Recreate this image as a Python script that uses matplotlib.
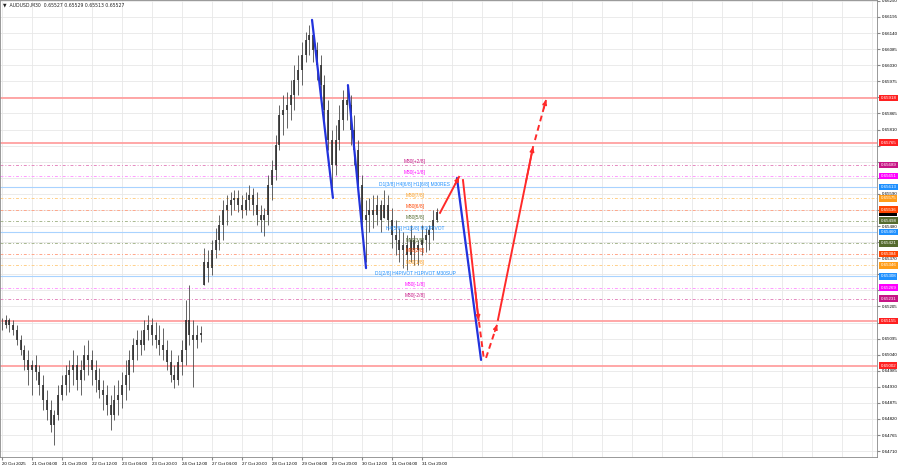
import numpy as np
import matplotlib.pyplot as plt

plt.rcParams['font.family'] = ['Liberation Sans', 'DejaVu Sans']

# header of the chart window
symbol = "AUDUSD,M30"
ohlc_now = [0.65527, 0.65529, 0.65513, 0.65527]

# M30 bars, one value every 4 bars (2 h), in points (1e-5)
step = 4
highs = [65165, 65176, 65165, 65159, 65142, 65107, 65073, 65056, 65022, 65039,
         65005, 64971, 64919, 64885, 64851, 64936, 64971, 65005, 65022, 65056,
         65039, 65022, 65073, 65090, 65056, 65022, 64994, 64954, 64936, 64902,
         64936, 64954, 64981, 65022, 65056, 65097, 65124, 65124, 65159, 65176,
         65165, 65152, 65142, 65131, 65090, 65056, 65005, 65039, 65090, 65227,
         65278, 65159, 65142, 65138, 65405, 65398, 65432, 65473, 65518, 65569,
         65586, 65596, 65603, 65603, 65586, 65596, 65620, 65610, 65596, 65552,
         65542, 65655, 65706, 65791, 65894, 65928, 65938, 65980, 66031, 66065,
         66109, 66144, 66168, 66150, 66109, 66065, 65997, 65911, 65809, 65826,
         65894, 65945, 65962, 65928, 65860, 65774, 65655, 65569, 65576, 65586,
         65586, 65569, 65603, 65586, 65542, 65501, 65473, 65460, 65449, 65484,
         65449, 65432, 65484, 65473, 65484, 65535, 65542]
lows = [65124, 65131, 65118, 65107, 65073, 65039, 64988, 64936, 64902, 64954,
        64902, 64851, 64817, 64776, 64731, 64817, 64885, 64902, 64912, 64936,
        64919, 64902, 64954, 64971, 64936, 64912, 64892, 64851, 64834, 64782,
        64817, 64834, 64858, 64885, 64919, 64981, 65022, 65039, 65056, 65090,
        65073, 65063, 65039, 65022, 64988, 64947, 64926, 64936, 64971, 65005,
        65073, 64929, 65063, 65083, 65278, 65289, 65313, 65371, 65398, 65432,
        65484, 65518, 65535, 65528, 65507, 65518, 65535, 65518, 65484, 65460,
        65446, 65484, 65569, 65637, 65740, 65791, 65815, 65843, 65877, 65928,
        65962, 66041, 66065, 66041, 65980, 65911, 65826, 65740, 65603, 65655,
        65740, 65809, 65843, 65757, 65689, 65586, 65449, 65357, 65460, 65473,
        65484, 65460, 65507, 65467, 65405, 65381, 65357, 65336, 65330, 65357,
        65347, 65347, 65381, 65391, 65398, 65432, 65494]
closes = [65142, 65159, 65142, 65124, 65090, 65056, 65022, 64988, 65005, 64981,
          64936, 64885, 64851, 64800, 64834, 64902, 64936, 64971, 64988, 65005,
          64954, 64988, 65039, 65022, 64988, 64954, 64919, 64902, 64868, 64834,
          64885, 64902, 64936, 64971, 65022, 65073, 65090, 65073, 65124, 65142,
          65107, 65090, 65073, 65056, 65015, 64971, 64954, 65015, 65056, 65159,
          65107, 65090, 65107, 65114, 65357, 65336, 65398, 65432, 65484, 65535,
          65552, 65569, 65576, 65552, 65535, 65569, 65586, 65552, 65518, 65501,
          65518, 65620, 65672, 65757, 65860, 65877, 65894, 65928, 65980, 66014,
          66065, 66116, 66133, 66082, 66031, 65962, 65877, 65774, 65689, 65774,
          65843, 65911, 65894, 65809, 65740, 65620, 65501, 65518, 65535, 65518,
          65552, 65501, 65552, 65501, 65449, 65432, 65398, 65415, 65381, 65432,
          65398, 65415, 65432, 65449, 65467, 65501, 65527]

# time axis: one label every 32 bars
time_labels = ["20 Oct 2025", "21 Oct 04:00", "21 Oct 20:00", "22 Oct 12:00",
               "23 Oct 04:00", "23 Oct 20:00", "24 Oct 12:00", "27 Oct 04:00",
               "27 Oct 20:00", "28 Oct 12:00", "29 Oct 04:00", "29 Oct 20:00",
               "30 Oct 12:00", "31 Oct 04:00", "31 Oct 20:00"]
label_every = 32

# murrey levels
level_prices = [0.65689, 0.65651, 0.65613, 0.65575, 0.65536, 0.65498, 0.65460,
                0.65421, 0.65384, 0.65346, 0.65308, 0.65269, 0.65231]
level_names = ["M30[+2/8]", "M30[+1/8]", "D1[3/8] H4[6/8] H1[6/8] M30RES",
               "M30[7/8]", "M30[6/8]", "M30[5/8]", "H4[5/8] H1[5/8] M30PIVOT",
               "M30[3/8]", "M30[2/8]", "M30[1/8]", "D1[2/8] H4PIVOT H1PIVOT M30SUP",
               "M30[-1/8]", "M30[-2/8]"]
level_colors = ["#c71585", "#ff00ff", "#1e90ff", "#ff9d1a", "#ff4500", "#556b2f",
                "#1e90ff", "#556b2f", "#ff4500", "#ff9d1a", "#1e90ff", "#ff00ff",
                "#c71585"]
line_colors = ["#e58ac0", "#ff9cff", "#a9d3ff", "#ffd08a", "#ffa68a", "#a8b890",
               "#a9d3ff", "#a8b890", "#ffa68a", "#ffd08a", "#a9d3ff", "#ff9cff",
               "#e58ac0"]
red_levels = [0.65918, 0.65765, 0.65155, 0.65002]

# drawn legs (bar, price)
blue_legs = [[(330.7, 0.66185), (353.0, 0.65576)],
             [(369.0, 0.65962), (388.3, 0.65336)],
             [(485.3, 0.65644), (511.0, 0.65022)]]
red_legs = [[(467.2, 0.65525), (487.5, 0.65648)],
            [(491.7, 0.65637), (508.3, 0.65159)],
            [(508.8, 0.65152), (514.1, 0.65022)],
            [(516.3, 0.65029), (528.0, 0.65142)],
            [(529.0, 0.65159), (566.4, 0.65750)],
            [(568.5, 0.65774), (580.3, 0.65911)]]
red_dashed = [False, False, True, True, False, True]
red_head = [True, True, False, True, True, True]

fig = plt.figure(figsize=(9, 4.68), dpi=100)
ax = fig.add_axes([0, 1 - 457 / 468, 877 / 900, 457 / 468])

ax.set_xlim(-2.1, 933.3)
ax.set_ylim(0.64690, 0.66253)

# grid
yt = np.arange(0.64710, 0.66251, 0.00055)
xt_lab = np.arange(len(time_labels)) * label_every
xt_all = np.arange(0, 934, label_every)
ax.set_yticks(yt)
ax.set_xticks(xt_lab)
ax.set_xticks(xt_all, minor=True)
ax.grid(True, which="both", color="#e8e8e8", lw=0.6)
ax.set_axisbelow(True)

# levels
for p in red_levels:
    ax.axhline(p, color="#ffa0a0", lw=1.3, zorder=1)
for p, name, c, lc in zip(level_prices, level_names, level_colors, line_colors):
    if c == "#1e90ff":
        ax.axhline(p, color=lc, lw=0.8, zorder=1)
    else:
        ax.axhline(p, color=lc, lw=0.7, ls=(0, (3, 2, 1, 2)), zorder=1)
    ax.text(440.5, p + 0.00002, name, ha="center", va="bottom", fontsize=3.5,
            color=c, zorder=4)

# candles
x = np.arange(len(highs)) * step
hi = np.array(highs) / 1e5
lo = np.array(lows) / 1e5
cl = np.array(closes) / 1e5
op = np.clip(np.r_[cl[0], cl[:-1]], lo, hi)
ax.vlines(x, lo, hi, color="#4a4a4a", lw=0.6, zorder=2)
ax.vlines(x, np.minimum(op, cl), np.maximum(op, cl), color="#2e2e2e", lw=1.2, zorder=2)

# drawn legs
for leg in blue_legs:
    (x0, y0), (x1, y1) = leg
    ax.plot([x0, x1], [y0, y1], color="#2233dd", lw=1.6, solid_capstyle="round", zorder=5)
for leg, dashed, head in zip(red_legs, red_dashed, red_head):
    (x0, y0), (x1, y1) = leg
    ax.plot([x0, x1], [y0, y1], color="#ff2a2a", lw=1.4,
            ls=(0, (3, 2)) if dashed else "-", zorder=5)
    if head:
        ax.annotate("", xy=(x1, y1), xytext=(x1 - (x1 - x0) * 0.2, y1 - (y1 - y0) * 0.2),
                    arrowprops=dict(arrowstyle="-|>", color="#ff2a2a", lw=1.2,
                                    mutation_scale=6, shrinkA=0, shrinkB=0), zorder=6)

# price boxes on the right axis (they hide the tick labels under them)
box_prices = [ohlc_now[3]] + red_levels + level_prices
box_colors = ["#000000"] + ["#ff2020"] * len(red_levels) + level_colors

ax.yaxis.tick_right()
ax.set_yticklabels([f"{v:.5f}" if min(abs(v - b) for b in box_prices) > 0.00012 else ""
                    for v in yt])
ax.set_xticklabels(time_labels, ha="left")
ax.tick_params(axis="y", labelsize=3.2, length=2, pad=1.5, color="#888")
ax.tick_params(axis="x", which="major", labelsize=3.2, length=2, pad=1.5, color="#888")
ax.tick_params(axis="x", which="minor", length=0)
for s in ax.spines.values():
    s.set_color("#888888")
    s.set_linewidth(0.6)

yax = ax.get_yaxis_transform()
for i, (p, c) in enumerate(zip(box_prices, box_colors)):
    # current price box first, so the 6/8 box partly covers it
    ax.text(1.004, p, f"{p:.5f}", transform=yax, ha="left", va="center",
            fontsize=3.2, color="white", clip_on=False, zorder=7 + 0.01 * i,
            bbox=dict(boxstyle="square,pad=0.3", fc=c, ec="none"))

# title
ax.text(0.003, 0.995, "\u25bc  " + symbol + "  " + " ".join(f"{v:.5f}" for v in ohlc_now),
        transform=ax.transAxes, ha="left", va="top", fontsize=3.3, color="#222",
        family=["DejaVu Sans"])

fig.savefig("out.png", dpi=100, facecolor="white")
